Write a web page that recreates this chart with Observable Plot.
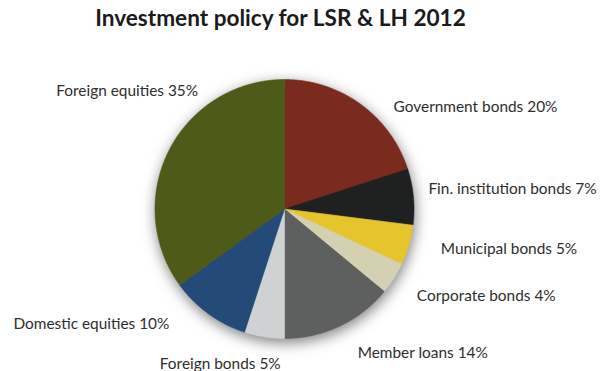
<!DOCTYPE html>
<html><head><meta charset="utf-8">
<script src="https://cdn.jsdelivr.net/npm/d3@7"></script>
<script src="https://cdn.jsdelivr.net/npm/@observablehq/plot@0.6"></script>
<style>
body{margin:0;background:#fff;}
#title{font-family:Lato,"Open Sans",sans-serif;font-weight:700;font-size:22.6px;color:#1b1b1b;text-align:center;width:561px;height:40px;line-height:26px;padding-top:5px;}
#chart svg{overflow:visible;}
</style></head><body>
<div id="title">Investment policy for LSR &amp; LH 2012</div>
<div id="chart"></div>
<script>
// Data (clockwise from 12 o'clock)
const categories = ["Government bonds","Fin. institution bonds","Municipal bonds","Corporate bonds","Member loans","Foreign bonds","Domestic equities","Foreign equities"];
const shares = [20, 7, 5, 4, 14, 5, 10, 35];
const colors = ["#7b2b1e","#1e2120","#e6c42c","#d3d1b2","#5d605f","#cfd2d2","#234a79","#4d5a18"];

// Label layout (offsets in px from the rim midpoint of each slice, anchor)
const labelDx = [33, 15, 32, 23, 18, -44, -39, 29];
const labelDy = [3, -8, 4, 18, 27, 27, 10, -59];
const labelAnchor = ["start","start","start","start","start","middle","end","end"];

const total = d3.sum(shares);
const slices = [];
let acc = 0;
shares.forEach((v, i) => {
  const a0 = acc / total * 2 * Math.PI;
  acc += v;
  const a1 = acc / total * 2 * Math.PI;
  slices.push({name: categories[i], value: v, color: colors[i], a0, a1, mid: (a0 + a1) / 2});
});

const piePts = [];
for (const s of slices) {
  piePts.push({name: s.name, color: s.color, x: 0, y: 0});
  const n = Math.max(4, Math.ceil((s.a1 - s.a0) / 0.005));
  for (let k = 0; k <= n; k++) {
    const a = s.a0 + (s.a1 - s.a0) * k / n;
    piePts.push({name: s.name, color: s.color, x: Math.sin(a), y: Math.cos(a)});
  }
  piePts.push({name: s.name, color: s.color, x: 0, y: 0});
}

const cx = 284, cy = 163.5, R = 129.5;
const textMarks = slices.map((s, i) => Plot.text([s], {
  x: d => Math.sin(d.mid), y: d => Math.cos(d.mid),
  text: d => `${d.name} ${d.value}%`,
  textAnchor: labelAnchor[i], dx: labelDx[i], dy: labelDy[i],
  fill: "#2e2e2e", fontSize: 15.4, fontFamily: "Lato, 'Open Sans', sans-serif"
}));

const chart = Plot.plot({
  width: 607, height: 326,
  margin: 0,
  x: {domain: [-1, 1], range: [cx - R, cx + R], axis: null},
  y: {domain: [-1, 1], range: [cy + R, cy - R], axis: null},
  color: {type: "identity"},
  style: {background: "transparent", overflow: "visible"},
  marks: [
    Plot.line(piePts, {x: "x", y: "y", z: "name", fill: "color", stroke: "color", strokeWidth: 0.6, curve: "linear"}),
    ...textMarks
  ]
});
d3.select(chart).select('g[aria-label="line"]').style("filter", "drop-shadow(1px 4px 7px rgba(0,0,0,0.5))");
document.getElementById("chart").appendChild(chart);
</script>
</body></html>
